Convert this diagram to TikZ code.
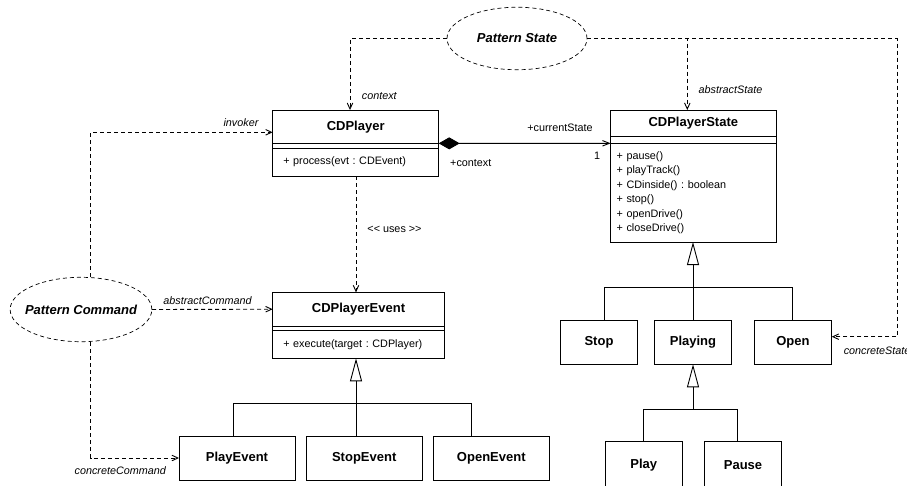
\documentclass[tikz,border=0pt]{standalone}
\usepackage{fontspec}
\setmainfont{Liberation Sans}
\usepackage{tikz}
\usetikzlibrary{arrows.meta,positioning,shapes.geometric}
\frenchspacing

\begin{document}
\begin{tikzpicture}[x=1pt,y=-1pt,line width=0.9pt,
	clsname/.style={draw,outer sep=0pt,inner sep=0pt,font=\fontsize{13}{15}\selectfont\bfseries},
	clsattr/.style={draw,outer sep=0pt,inner sep=0pt},
	clsops/.style={draw,outer sep=0pt,inner ysep=0pt,align=left,font=\fontsize{10.8}{14.5}\selectfont},
	leaf/.style={draw,outer sep=0pt,inner sep=0pt,minimum height=44pt,font=\fontsize{13}{15}\selectfont\bfseries},
	pattern/.style={ellipse,draw,dash pattern=on 4pt off 3pt,line width=0.7pt,inner sep=0pt},
	patlabel/.style={font=\fontsize{13}{15}\selectfont\bfseries\itshape},
	role/.style={font=\fontsize{10.8}{13}\selectfont\itshape,inner sep=0pt},
	mult/.style={font=\fontsize{10.8}{13}\selectfont,inner sep=0pt},
	dep/.style={dash pattern=on 4pt off 3pt,-{Straight Barb[length=6pt,width=5.5pt]}},
	gen/.style={-{Triangle[open,length=23pt,width=12pt]}},
	comp/.style={{Diamond[length=21pt,width=12pt]}-{Straight Barb[length=7pt,width=5.5pt]}}]
	\useasboundingbox (0,0) rectangle (907,485);
	
	% patterns
	\node[pattern,minimum width=140pt,minimum height=62.5pt,
	label={[patlabel]center:Pattern State}] (pstate) at (517,38.5) {};
	\node[pattern,minimum width=141.7pt,minimum height=64.4pt,
	label={[patlabel]center:Pattern Command}] (pcmd) at (81,309.5) {};
	
	% CDPlayer
	\node[clsname,minimum width=166pt,minimum height=33.3pt] (player) at (355.7,126.7) {CDPlayer};
	\node[clsattr,minimum width=166pt,minimum height=5pt,below=0pt of player] (playerA) {};
	\node[clsops,inner xsep=10.6pt,text width=144.8pt,minimum height=27.7pt,below=0pt of playerA] (playerO)
	{+ process(evt : CDEvent)};
	
	% CDPlayerState
	\node[clsname,minimum width=165.3pt,minimum height=26.7pt] (state) at (693.3,123.35) {CDPlayerState};
	\node[clsattr,minimum width=165.3pt,minimum height=6.6pt,below=0pt of state] (stateA) {};
	\node[clsops,inner xsep=6pt,text width=153.3pt,minimum height=98.7pt,below=0pt of stateA] (stateO)
	{+ pause()\\+ playTrack()\\+ CDinside() : boolean\\+ stop()\\+ openDrive()\\+ closeDrive()};
	
	% CDPlayerEvent
	\node[clsname,minimum width=171.6pt,minimum height=33.7pt] (event) at (358.5,309.2) {CDPlayerEvent};
	\node[clsattr,minimum width=171.6pt,minimum height=4.7pt,below=0pt of event] (eventA) {};
	\node[clsops,inner xsep=10.6pt,text width=150.4pt,minimum height=27.6pt,below=0pt of eventA] (eventO)
	{+ execute(target : CDPlayer)};
	
	% subclasses
	\node[leaf,minimum width=116pt] (playev) at (237,458) {PlayEvent};
	\node[leaf,minimum width=116.3pt] (stopev) at (364.2,458) {StopEvent};
	\node[leaf,minimum width=116pt] (openev) at (491.3,458.5) {OpenEvent};
	\node[leaf,minimum width=76.6pt,minimum height=43.6pt] (stop) at (599,342.5) {Stop};
	\node[leaf,minimum width=77.4pt,minimum height=43.6pt] (playing) at (693,342.5) {Playing};
	\node[leaf,minimum width=77.7pt,minimum height=43.6pt] (open) at (792.9,342.5) {Open};
	\node[leaf,minimum width=77.3pt,minimum height=47pt] (play) at (643.7,465.2) {Play};
	\node[leaf,minimum width=77.4pt,minimum height=47pt] (pause) at (743,465.2) {Pause};
	
	% pattern roles
	\draw[dep] (pstate.west) -| (player.north -| 350,0);
	\draw[dep] (pstate.east) -| (state.north -| 687.3,0);
	\draw[dep] (pstate.east) -| (897.3,336.7) -- (open.east |- 0,336.7);
	\draw[dep] (pcmd.north -| 90.7,0) |- (player.west |- 0,132.3);
	\draw[dep] (pcmd.east) -- (event.west);
	\draw[dep] (pcmd.south -| 90.7,0) |- (playev.west);
	\draw[dep] (playerO.south -| 356,0) -- (event.north -| 356,0);
	\draw[comp] (player.south east) -- (stateA.south west);
	
	% inheritance
	\draw (233.3,0 |- playev.north) -- (233.3,403.3) -- (471.7,403.3) -- (471.7,0 |- openev.north);
	\draw[gen] (356,0 |- stopev.north) -- (356,0 |- eventO.south);
	\draw (604.3,0 |- stop.north) -- (604.3,287.3) -- (792.7,287.3) -- (792.7,0 |- open.north);
	\draw[gen] (playing.north) -- (playing.north |- stateO.south);
	\draw (643.3,0 |- play.north) -- (643.3,409) -- (737.3,409) -- (737.3,0 |- pause.north);
	\draw[gen] (playing.south |- 0,409) -- (playing.south);
	
	% labels
	\node[role] (lcontext) at (379.3,95.7) {context};
	\node[role] (linvoker) at (241,123) {invoker};
	\node[mult] (luses) at (394.5,229) {<{}< uses >{}>};
	\node[role] (labstate) at (730.5,90) {abstractState};
	\node[mult] (lcurrent) at (560,127.7) {+currentState};
	\node[mult] (lone) at (597,155.3) {1};
	\node[mult] (lctx) at (470.8,163.3) {+context};
	\node[role] (labscmd) at (207.5,300.7) {abstractCommand};
	\node[role] (lconcmd) at (120.3,471) {concreteCommand};
	\node[role,anchor=west] (lconstate) at (843.3,351) {concreteState};
\end{tikzpicture}
\end{document}
